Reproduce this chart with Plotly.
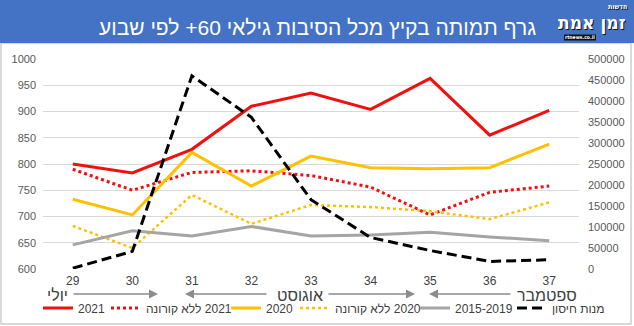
import plotly.graph_objects as go

weeks = [29, 30, 31, 32, 33, 34, 35, 36, 37]
deaths_2021 = [800, 783, 828, 910, 935, 904, 963, 855, 902]
deaths_2021_no_covid = [790, 750, 784, 787, 778, 756, 703, 746, 758]
deaths_2020 = [733, 703, 822, 758, 815, 793, 791, 793, 838]
deaths_2020_no_covid = [682, 640, 741, 686, 722, 718, 710, 695, 727]
deaths_2015_2019 = [646, 673, 663, 681, 663, 665, 670, 661, 654]
vaccine_doses = [2000, 42000, 460000, 361000, 165000, 75000, 44000, 18000, 22000]

left_ticks = [600, 650, 700, 750, 800, 850, 900, 950, 1000]
right_ticks = [0, 50000, 100000, 150000, 200000, 250000, 300000, 350000, 400000, 450000, 500000]

RLM = "\u200F"
names = ["2021", RLM + "2021 ללא קורונה", "2020", RLM + "2020 ללא קורונה", "2015-2019", "מנות חיסון"]
title_text = "גרף תמותה בקיץ מכל הסיבות גילאי 60+ לפי שבוע"
months = ["יולי", "אוגוסט", "ספטמבר"]

W, H = 634, 326
ML, MR, MT, MB = 43, 55, 59, 57
PW = W - ML - MR
PH = H - MT - MB


def px_x(p):
    return (p - ML) / PW


def px_y(p):
    return (H - MB - p) / PH


RED = "#F01010"
GOLD = "#FFC000"
GRAY = "#A5A5A5"

series = [
    (weeks, deaths_2021, names[0], dict(color=RED, width=3), "y"),
    (weeks, deaths_2021_no_covid, names[1], dict(color=RED, width=3, dash="dot"), "y"),
    (weeks, deaths_2020, names[2], dict(color=GOLD, width=3), "y"),
    (weeks, deaths_2020_no_covid, names[3], dict(color=GOLD, width=2.5, dash="dot"), "y"),
    (weeks, deaths_2015_2019, names[4], dict(color=GRAY, width=3), "y"),
    (weeks, vaccine_doses, names[5], dict(color="black", width=3, dash="10px,5px"), "y2"),
]
legend_ids = ["legend", "legend2", "legend3", "legend4", "legend5", "legend6"]
legend_x_px = [42, 110, 230, 299, 419, 516]

fig = go.Figure()
for (xs, ys, nm, ln, ax), lid in zip(series, legend_ids):
    fig.add_trace(go.Scatter(x=xs, y=ys, name=nm, mode="lines", line=ln, yaxis=ax, legend=lid))

tick_font = dict(family="Liberation Sans, Arial, sans-serif", size=11, color="#595959")

fig.update_layout(
    width=W, height=H,
    margin=dict(l=ML, r=MR, t=MT, b=MB, autoexpand=False),
    paper_bgcolor="white", plot_bgcolor="white",
    font=dict(family="Liberation Sans, Arial, sans-serif", color="#404040"),
    xaxis=dict(range=[28.5, 37.5], tickvals=weeks, ticktext=[str(w) for w in weeks],
               showgrid=False, zeroline=False, showline=False, ticks="",
               tickfont=dict(family="Liberation Sans, Arial, sans-serif", size=12, color="#404040"),
               ticklabelstandoff=3),
    yaxis=dict(range=[600, 1000], tickvals=left_ticks, ticktext=[str(v) for v in left_ticks],
               showgrid=True, gridcolor="#D9D9D9",
               gridwidth=1, zeroline=False, ticks="", tickfont=tick_font, ticklabelstandoff=6),
    yaxis2=dict(range=[0, 500000], tickvals=right_ticks, ticktext=[str(v) for v in right_ticks],
                overlaying="y", side="right",
                showgrid=False, zeroline=False, ticks="", tickfont=tick_font,
                ticklabelstandoff=8),
    showlegend=True,
)

for lid, lx in zip(legend_ids, legend_x_px):
    fig.update_layout({lid: dict(orientation="h", x=px_x(lx - 4), y=px_y(308), xanchor="left", yanchor="middle",
                                 font=dict(size=12, color="#404040"), bgcolor="rgba(0,0,0,0)",
                                 itemwidth=30)})

shapes = [
    dict(type="rect", xref="paper", yref="paper", x0=px_x(1), x1=px_x(631), y0=px_y(324), y1=px_y(43),
         line=dict(color="#D9D9D9", width=2), fillcolor="rgba(0,0,0,0)", layer="below"),
    dict(type="rect", xref="paper", yref="paper", x0=px_x(0), x1=px_x(W), y0=px_y(43), y1=px_y(0),
         line=dict(width=0), fillcolor="#4472C4", layer="above"),
    dict(type="rect", xref="paper", yref="paper", x0=px_x(564), x1=px_x(596), y0=px_y(40.5), y1=px_y(34.5),
         line=dict(width=0), fillcolor="#111111", layer="above"),
]
fig.update_layout(shapes=shapes)

annotations = [
    dict(text=title_text, xref="paper", yref="paper", x=px_x(538), y=px_y(27), xanchor="right",
         yanchor="middle", showarrow=False,
         font=dict(family="Liberation Sans, Arial, sans-serif", size=21, color="white")),
    dict(text="<b>זמן אמת</b>", xref="paper", yref="paper", x=px_x(592), y=px_y(23), xanchor="center",
         yanchor="middle", showarrow=False,
         font=dict(family="DejaVu Sans Condensed, Liberation Sans Narrow, sans-serif", size=19, color="white",
                   shadow="1px 1px 0px #111")),
    dict(text="<b>חדשות</b>", xref="paper", yref="paper", x=px_x(617), y=px_y(7), xanchor="center",
         yanchor="middle", showarrow=False,
         font=dict(family="DejaVu Sans Condensed, sans-serif", size=7, color="white",
                   shadow="1px 1px 0px #111")),
    dict(text="<b>rtnews.co.il</b>", xref="paper", yref="paper", x=px_x(580), y=px_y(37.5), xanchor="center",
         yanchor="middle", showarrow=False,
         font=dict(family="DejaVu Sans Condensed, sans-serif", size=5, color="white")),
]

month_x_px = [57, 300, 547]
for m, xp in zip(months, month_x_px):
    annotations.append(dict(text=m, xref="paper", yref="paper", x=px_x(xp), y=px_y(295.5),
                            xanchor="center", yanchor="middle", showarrow=False,
                            font=dict(family="Liberation Sans, Arial, sans-serif", size=16, color="#404040")))

arrows_px = [(72, 158), (268, 185), (327, 415), (512, 429)]
for tail, head in arrows_px:
    annotations.append(dict(text="", xref="paper", yref="paper", x=px_x(head), y=px_y(294),
                            axref="pixel", ayref="pixel", ax=tail - head, ay=0,
                            showarrow=True, arrowhead=2, arrowsize=1.2, arrowwidth=1.5,
                            arrowcolor="#8C8C8C"))

fig.update_layout(annotations=annotations)

fig.write_html("out.html")
